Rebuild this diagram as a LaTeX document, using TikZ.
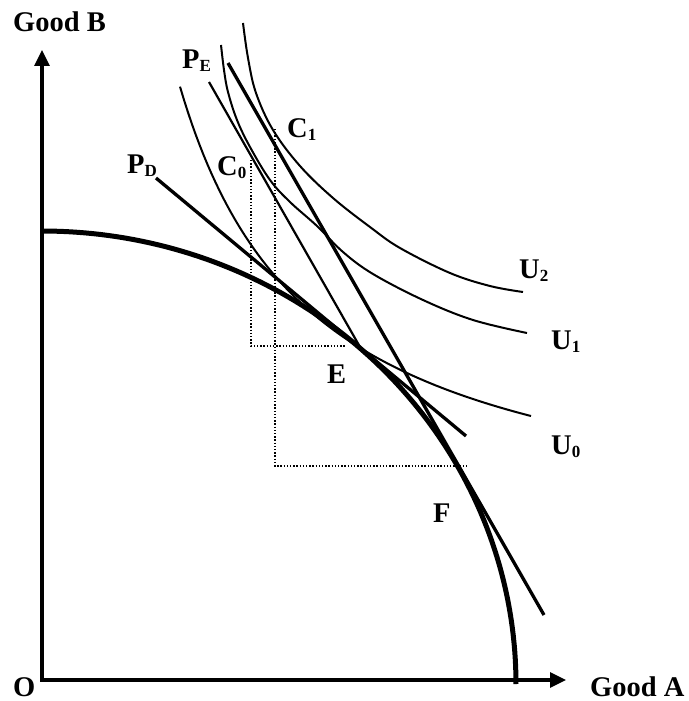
\documentclass[tikz,border=0pt]{standalone}
\usepackage{fontspec}
\setmainfont{Liberation Serif}
\usetikzlibrary{arrows.meta}
\newcommand{\lsub}[1]{{\fontsize{17}{17}\selectfont\raisebox{-3.5pt}{#1}}}
\begin{document}
\begin{tikzpicture}[x=1pt,y=-1pt,
  lab/.style={font=\fontsize{28.5}{28.5}\selectfont\bfseries, inner sep=0pt, anchor=base west},
  ucurve/.style={line width=2pt},
  thinline/.style={line width=2.2pt},
  budget/.style={line width=3.3pt},
  ppf/.style={line width=5pt},
  axis/.style={line width=3.2pt, {Triangle[width=15pt,length=16pt]}-{Triangle[width=15pt,length=16pt]}},
  guide/.style={line width=1.4pt, dash pattern=on 1.4pt off 1.8pt},
]
\useasboundingbox (0,0) rectangle (688,701);

% axes
\coordinate (ytip) at (42,50);
\coordinate (orig) at (42,680);
\coordinate (xtip) at (566,680);
\draw[axis] (ytip) -- (orig) -- (xtip);

% production possibility frontier
\draw[ppf] plot[domain=0:90, samples=90] ({42+474*sin(\x)}, {684-453*cos(\x)});

% price lines
\coordinate (pdA) at (156,178);
\coordinate (pdB) at (466,436);
\draw[budget] (pdA) -- (pdB);
\coordinate (peA) at (228,63);
\coordinate (peB) at (544,615);
\draw[budget] (peA) -- (peB);
\coordinate (wA) at (209,82);
\coordinate (wB) at (360,347);
\draw[thinline] (wA) -- (wB);

% indifference curves
\draw[ucurve] plot[domain=180:531, samples=90] (\x, {540.8-604/((\x-47)/100)});
\draw[ucurve] plot[smooth, tension=0.6] coordinates {(221,45) (224,70) (228,92) (237,120) (250,147) (270,180) (290,202) (317,226) (343,252) (373,274) (423,300) (473,320) (527,333)};
\draw[ucurve] plot[smooth, tension=0.6] coordinates {(243,23) (248,58) (256,93) (273,130) (300,166) (333,198) (370,227) (400,248) (450,273) (490,286) (523,292)};

% guides
\coordinate (c0top) at (251,160);
\coordinate (c0bot) at (251,346);
\coordinate (eguide) at (346,346);
\draw[guide] (c0top) -- (c0bot) -- (eguide);
\coordinate (c1top) at (275,129);
\coordinate (c1bot) at (275,466);
\coordinate (fguide) at (467,466);
\draw[guide] (c1top) -- (c1bot) -- (fguide);

% labels
\node[lab] (goodB) at (13,32) {Good B};
\node[lab] (goodA) at (590,696) {Good A};
\node[lab] (origin) at (13,696) {O};
\node[lab] (PE) at (182,68) {P\lsub{E}};
\node[lab] (PD) at (127,173) {P\lsub{D}};
\node[lab] (C0) at (217,175) {C\lsub{0}};
\node[lab] (C1) at (287,137) {C\lsub{1}};
\node[lab] (E) at (327,383) {E};
\node[lab] (F) at (433,522) {F};
\node[lab] (U2) at (519,278) {U\lsub{2}};
\node[lab] (U1) at (551,349) {U\lsub{1}};
\node[lab] (U0) at (551,454) {U\lsub{0}};
\end{tikzpicture}
\end{document}
